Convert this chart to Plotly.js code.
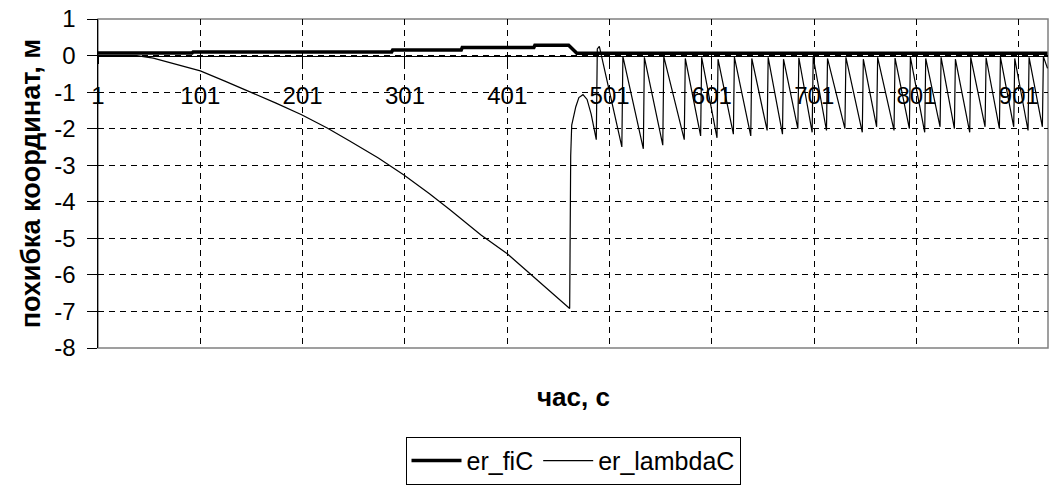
<!DOCTYPE html>
<html>
<head>
<meta charset="utf-8">
<script src="https://cdn.plot.ly/plotly-3.0.1.min.js"></script>
<style>
  html, body { margin: 0; padding: 0; background: #fff; }
  #chart { width: 1051px; height: 486px; }
</style>
</head>
<body>
<div id="chart"></div>
<script>
// ---- data (category index = time, s) ----
const xTickVals = [1, 101, 201, 301, 401, 501, 601, 701, 801, 901];
const xTickText = ["1", "101", "201", "301", "401", "501", "601", "701", "801", "901"];
const yTickVals = [1, 0, -1, -2, -3, -4, -5, -6, -7, -8];
const yTickText = ["1", "0", "-1", "-2", "-3", "-4", "-5", "-6", "-7", "-8"];

// er_fiC (thick line) vertices
const fiX = [1, 93, 94, 288, 289, 356, 357, 427, 428, 461, 469, 929];
const fiY = [0.07, 0.07, 0.1, 0.1, 0.15, 0.15, 0.22, 0.22, 0.28, 0.28, 0.06, 0.06];

// er_lambdaC (thin line): drift part
const lamDriftX = [1, 39, 55, 71, 86, 101, 125, 150, 175, 200, 225, 247, 275, 300, 325, 345, 375, 401, 433, 462];
const lamDriftY = [0, 0, -0.07, -0.19, -0.3, -0.42, -0.7, -0.99, -1.3, -1.62, -1.98, -2.34, -2.8, -3.27, -3.78, -4.22, -4.9, -5.42, -6.2, -6.92];

// er_lambdaC: recovery jump
const lamJumpX = [463, 464, 468, 471, 475, 479, 483, 488, 489, 491];
const lamJumpY = [-2.75, -1.9, -1.4, -1.15, -1.07, -1.2, -1.6, -2.3, 0.18, 0.25];

// er_lambdaC: oscillation (trough, peak) pairs
const lamOscX = [513, 514, 534, 535, 553, 554, 574, 575, 590, 591, 606, 607, 622, 623, 639, 640, 655, 656,
  670, 671, 685, 686, 699, 700, 713, 714, 731, 732, 748, 749, 762, 763, 779, 780, 794, 795, 809, 810,
  824, 825, 838, 839, 853, 854, 868, 869, 882, 883, 896, 897, 910, 911, 924, 925, 929];
const lamOscY = [-2.5, -0.02, -2.55, -0.05, -2.45, -0.03, -2.3, -0.08, -2.2, -0.05, -2.25, -0.1, -2.15, -0.04,
  -2.2, -0.08, -2.05, -0.05, -2.15, -0.1, -2.0, -0.06, -2.1, -0.04, -2.05, -0.08, -2.0, -0.05, -2.1, -0.1,
  -1.95, -0.05, -2.05, -0.07, -2.0, -0.04, -2.1, -0.08, -1.95, -0.05, -2.0, -0.1, -2.1, -0.05, -1.95, -0.06,
  -2.0, -0.04, -1.95, -0.08, -2.05, -0.05, -1.95, -0.03, -0.35];

const lamX = lamDriftX.concat(lamJumpX, lamOscX);
const lamY = lamDriftY.concat(lamJumpY, lamOscY);

const FONT = "Liberation Sans, Arial, sans-serif";

const traces = [
  { x: fiX, y: fiY, name: "er_fiC", type: "scatter", mode: "lines",
    line: { color: "#000", width: 3.5 } },
  { x: lamX, y: lamY, name: "er_lambdaC", type: "scatter", mode: "lines",
    line: { color: "#000", width: 1.2 } }
];

const layout = {
  width: 1051, height: 486,
  margin: { l: 98, r: 3, t: 19, b: 138, autoexpand: false },
  paper_bgcolor: "#fff", plot_bgcolor: "#fff",
  font: { family: FONT, size: 24, color: "#000" },
  showlegend: true,
  legend: {
    orientation: "h", x: 0.5, xanchor: "center", y: -0.27, yanchor: "top",
    bordercolor: "#000", borderwidth: 1, font: { family: FONT, size: 25, color: "#000" },
    itemwidth: 50, traceorder: "normal"
  },
  xaxis: {
    range: [1, 929.5], anchor: "free", position: 8 / 9, automargin: false,
    tickmode: "array", tickvals: xTickVals, ticktext: xTickText,
    ticks: "outside", ticklen: 7, tickcolor: "#000", ticklabelstandoff: 12,
    showline: true, linecolor: "#000", linewidth: 1,
    showgrid: true, gridcolor: "#000", griddash: "6px,5px", gridwidth: 1,
    zeroline: false, tickfont: { family: FONT, size: 24, color: "#000" }
  },
  yaxis: {
    range: [-8, 1], tickmode: "array", tickvals: yTickVals, ticktext: yTickText, automargin: false,
    ticks: "outside", ticklen: 10, tickcolor: "#000", ticklabelstandoff: 6,
    showline: true, linecolor: "#000", linewidth: 1.5,
    showgrid: true, gridcolor: "#000", griddash: "6px,5px", gridwidth: 1,
    zeroline: false, tickfont: { family: FONT, size: 24, color: "#000" },
    title: { text: "похибка координат, м", font: { family: FONT, size: 27, color: "#000", weight: "bold" }, standoff: 6 }
  },
  shapes: [
    { type: "rect", xref: "paper", yref: "paper", x0: 0, x1: 1, y0: 0, y1: 1,
      line: { color: "#808080", width: 1.5 }, layer: "below" }
  ],
  annotations: [
    { text: "<b>час, с</b>", xref: "paper", yref: "paper", x: 0.5, y: -0.148,
      xanchor: "center", yanchor: "middle", showarrow: false,
      font: { family: FONT, size: 26, color: "#000" } }
  ]
};

Plotly.newPlot("chart", traces, layout, { displayModeBar: false, staticPlot: true });
</script>
</body>
</html>
